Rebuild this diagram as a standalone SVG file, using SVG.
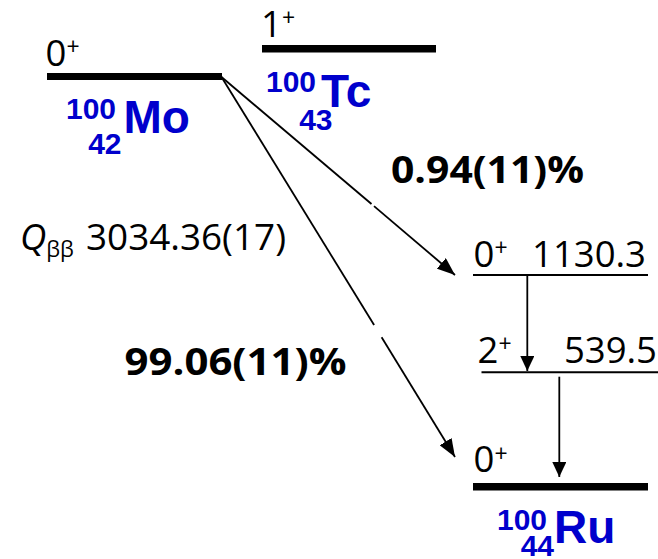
<svg xmlns="http://www.w3.org/2000/svg" width="658" height="559" viewBox="0 0 658 559">
<style>
.bar{fill:#000}
.thin{stroke:#000;stroke-width:2;fill:none}
.ln{stroke:#000;stroke-width:1.8;fill:none}
.lvl{font-family:"Open Sans","Noto Sans",sans-serif;font-size:36.5px;fill:#000}
.sup{font-size:23px}
.pct{font-family:"Open Sans","Noto Sans",sans-serif;font-weight:bold;font-size:38px;fill:#000}
.nuc{font-family:"Liberation Sans",Arial,sans-serif;font-weight:bold;fill:#0000CC}
.num{font-size:30px}
.el{font-size:46px}
</style>
<defs>
<marker id="ah" viewBox="0 0 18 14" refX="18" refY="7" markerWidth="18" markerHeight="14" markerUnits="userSpaceOnUse" orient="auto"><path d="M0,0 L18,7 L0,14 z" fill="#000"/></marker>
<marker id="ahs" viewBox="0 0 15 14" refX="15" refY="7" markerWidth="15" markerHeight="14" markerUnits="userSpaceOnUse" orient="auto"><path d="M0,0 L15,7 L0,14 z" fill="#000"/></marker>
</defs>
<rect width="658" height="559" fill="#fff"/>

<g id="mo">
<rect class="bar" x="47" y="73" width="175" height="7"/>
<text class="lvl" x="45.5" y="66" font-size="37">0<tspan class="sup" dy="-11">+</tspan></text>
<text class="nuc num" x="66" y="119">100</text>
<text class="nuc num" x="121.5" y="154" text-anchor="end">42</text>
<text class="nuc el" x="123.5" y="133">Mo</text>
</g>

<g id="tc">
<rect class="bar" x="262" y="45" width="174" height="7.5"/>
<text class="lvl" x="261" y="37" font-size="34">1<tspan class="sup" dy="-11" font-size="22">+</tspan></text>
<text class="nuc num" x="266" y="91.7">100</text>
<text class="nuc num" x="332.5" y="130" text-anchor="end">43</text>
<text class="nuc el" x="321" y="106.5" font-size="48">Tc</text>
</g>

<g id="q">
<text class="lvl" x="20" y="250" font-size="36"><tspan font-style="italic">Q</tspan><tspan font-size="22" dy="7">ββ</tspan></text>
<text class="lvl" x="86" y="250" font-size="36" textLength="200" lengthAdjust="spacingAndGlyphs">3034.36(17)</text>
</g>

<g id="pct1">
<text class="pct" x="391" y="182.7" textLength="193" lengthAdjust="spacingAndGlyphs">0.94(11)%</text>
</g>
<g id="pct2">
<text class="pct" x="124.5" y="375" textLength="222" lengthAdjust="spacingAndGlyphs">99.06(11)%</text>
</g>

<g id="ru1130">
<line class="thin" x1="473" y1="275" x2="648" y2="275"/>
<text class="lvl" x="473.5" y="266.7">0<tspan class="sup" dy="-11">+</tspan></text>
<text class="lvl" x="646" y="266.7" text-anchor="end">1130.3</text>
</g>

<g id="ru539">
<line class="thin" x1="481.5" y1="372.3" x2="658" y2="372.3"/>
<text class="lvl" x="477.5" y="363">2<tspan class="sup" dy="-11">+</tspan></text>
<text class="lvl" x="657" y="363" text-anchor="end">539.5</text>
</g>

<g id="ru0">
<rect class="bar" x="473" y="483" width="175" height="7.5"/>
<text class="lvl" x="473.5" y="471.7" font-size="31">0<tspan class="sup" dy="-10" font-size="21">+</tspan></text>
<text class="nuc num" x="497" y="530">100</text>
<text class="nuc num" x="554" y="555.5" text-anchor="end">44</text>
<text class="nuc el" x="554" y="543" font-size="44">Ru</text>
</g>

<g id="connectors">
<line class="ln" x1="221.5" y1="77" x2="371.5" y2="204"/>
<line class="ln" x1="374" y1="206.1" x2="455" y2="275" marker-end="url(#ah)"/>
<line class="ln" x1="221.5" y1="77" x2="374.1" y2="325"/>
<line class="ln" x1="381.6" y1="337.3" x2="455" y2="457" marker-end="url(#ah)"/>
<line class="ln" x1="527.3" y1="275" x2="527.3" y2="371" marker-end="url(#ahs)"/>
<line class="ln" x1="559.3" y1="376.7" x2="559.3" y2="477" marker-end="url(#ahs)"/>
</g>
</svg>
